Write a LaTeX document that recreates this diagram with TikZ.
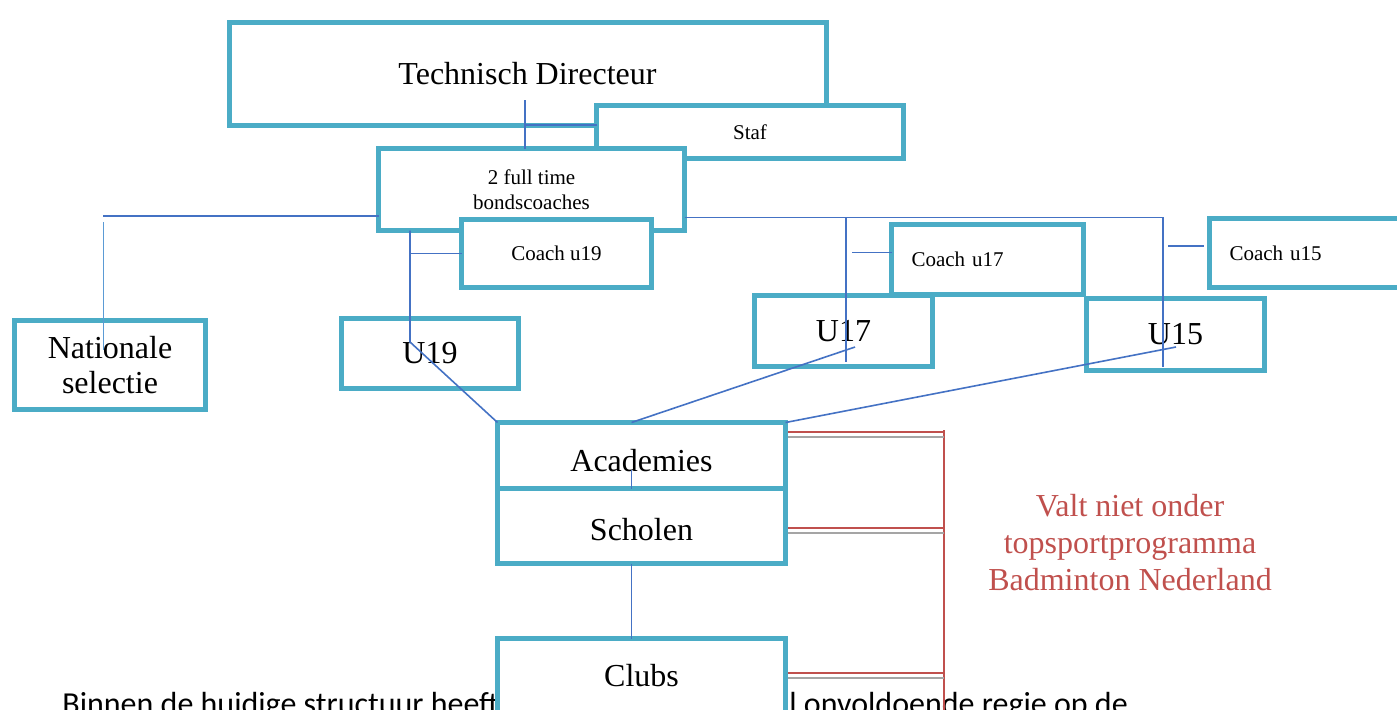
\documentclass[tikz,border=0pt]{standalone}
\usepackage{fontspec}
\setmainfont{Liberation Serif}
\newfontfamily\bodyfont{Carlito}
\usepackage{tikz}
\usetikzlibrary{positioning,calc}
\definecolor{boxcyan}{HTML}{4BACC6}
\definecolor{linkblue}{HTML}{4472C4}
\definecolor{linklight}{HTML}{5B9BD5}
\definecolor{notered}{HTML}{C0504D}
\definecolor{notegray}{HTML}{A5A5A5}
\tikzset{
orgbox/.style={draw=boxcyan, line width=2.5pt, fill=white, inner sep=0pt, outer sep=0pt, align=center, font=\fontsize{16}{17.5}\selectfont}, % the large boxes
smallbox/.style={orgbox, font=\fontsize{10.5}{12.5}\selectfont}, % boxes with small text
lefttext/.style={inner xsep=10pt, text width=76pt, align=left}, % text pushed to the left
link/.style={draw=linkblue, line width=0.8pt},
natlink/.style={draw=linklight, line width=0.5pt},
redline/.style={draw=notered, line width=1.25pt},
grayline/.style={draw=notegray, line width=1pt},
}

\begin{document}
\begin{tikzpicture}[x=0.5pt,y=-0.5pt]
\useasboundingbox (0,0) rectangle (1397,709);
\clip (0,0) rectangle (1397,709);
% running text behind the chart
\node[anchor=base west, inner sep=0pt, font=\bodyfont\fontsize{16}{19}\selectfont] (txtleft) at (62,714) {Binnen de huidige structuur heeft};
\node[anchor=base west, inner sep=0pt, font=\bodyfont\fontsize{16}{19}\selectfont] (txtright) at (789,714) {l onvoldoende regie op de};
% bracket on the right
\coordinate (brtop) at (944,430);
\coordinate (brbot) at (944,720);
\draw[redline] (brtop) -- (brbot);
\foreach \nm/\y in {acad/432, schol/528, clubs/673}{
  \draw[redline] (780,\y) -- (brtop |- 0,\y);
  \draw[grayline] (780,\y+4.5) -- (brtop |- 0,\y+4.5);
}
% boxes
\node[orgbox, minimum width=298.5pt, minimum height=51.5pt] (td) at (527.5,73.5) {Technisch Directeur};
\node[smallbox, minimum width=153.5pt, minimum height=26.5pt] (staf) at (750,132) {Staf};
\node[smallbox, minimum width=153pt, minimum height=41pt] (bond) at (531.5,189.5) {2 full time\\bondscoaches};
\node[smallbox, minimum width=95pt, minimum height=34pt] (cu19) at (556.5,253.5) {Coach u19};
\node[orgbox, minimum width=95.5pt, minimum height=44.5pt] (nat) at (110,365) {Nationale\\selectie};
\node[orgbox, minimum width=88.5pt, minimum height=35pt] (u19) at (430,353.5) {U19};
\node[orgbox, minimum width=89pt, minimum height=35.5pt] (u17) at (843.5,331) {U17};
\node[orgbox, minimum width=89pt, minimum height=36pt] (u15) at (1175.5,334.5) {U15};
\node[smallbox, lefttext, minimum width=96pt, minimum height=35pt] (cu17) at (987.5,259.5) {Coach u17};
\node[smallbox, lefttext, minimum width=96pt, minimum height=34.5pt] (cu15) at (1305.5,253) {Coach u15};
\node[orgbox, minimum width=144pt, text height=24.5pt, text depth=8.5pt] (acad) at (641.5,455.5) {Academies};
\node[orgbox, minimum width=144pt, text height=26pt, text depth=11.5pt, below=0pt of acad] (schol) {Scholen};
\node[orgbox, minimum width=144pt, text height=23.75pt, text depth=37pt, below=37.5pt of schol] (clubs) {Clubs};
% connectors
\coordinate (tdstem) at (525,100);
\coordinate (tdjoin) at (525,125);
\draw[link] (tdstem) -- (tdstem |- bond.north);
\draw[link] (tdjoin) -- (tdjoin -| staf.west);
\coordinate (natL) at (103,216);
\coordinate (natend) at (103,350);
\draw[link] (natL) -- (natL -| bond.west);
\draw[natlink] ([yshift=-3pt]natL) -- (natend);
\coordinate (u19tip) at (410,342);
\draw[link] (u19tip |- bond.south) -- (u19tip) -- (acad.north west);
\draw[link] (cu19.west) -- (cu19.west -| u19tip);
\coordinate (rail) at ([yshift=-14pt]bond.east);
\coordinate (u17tip) at (846,362);
\coordinate (u15tip) at (1163,367);
\draw[link] (rail) -| (u15tip);
\draw[link] (u17tip |- rail) -- (u17tip);
\coordinate (cu17in) at ([yshift=3.5pt]cu17.west);
\draw[link] (cu17in) -- ([xshift=3pt]cu17in -| u17tip);
\coordinate (cu15in) at ([xshift=-3pt,yshift=3.5pt]cu15.west);
\draw[link] (cu15in) -- ([xshift=2.5pt]cu15in -| u15tip);
\coordinate (u17foot) at (855,347);
\coordinate (u15foot) at (1176,347);
\draw[link] (u17foot) -- ([xshift=-5pt]acad.north);
\draw[link] (u15foot) -- (acad.north east);
\draw[link] ([xshift=-5pt,yshift=-7pt]acad.center) -- ([xshift=-5pt]schol.north);
\draw[link] ([xshift=-5pt]schol.south) -- ([xshift=-5pt]clubs.north);
% note
\node[align=center, text=notered, font=\fontsize{16}{18.5}\selectfont] (note) at (1130,543) {Valt niet onder\\topsportprogramma\\Badminton Nederland};
\end{tikzpicture}
\end{document}
